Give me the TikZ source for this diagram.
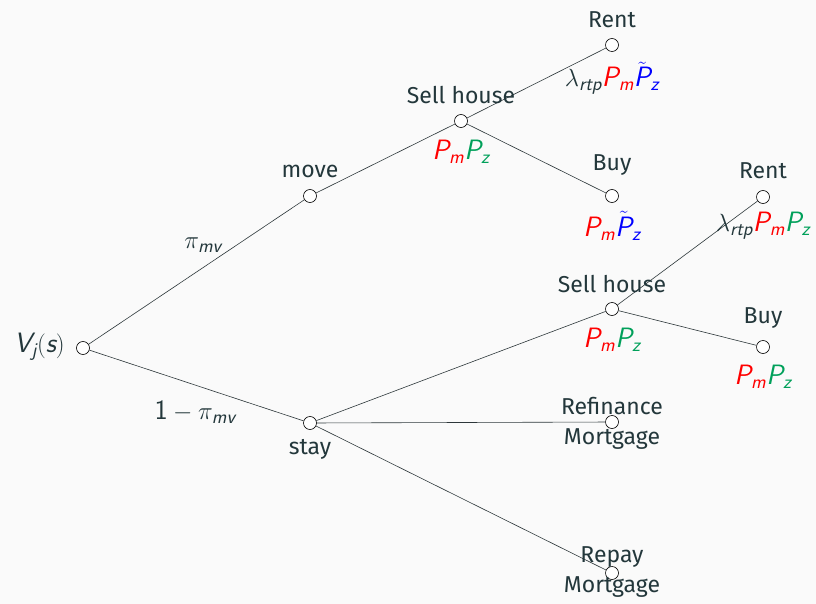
\documentclass[tikz,border=0pt]{standalone}
\usepackage{amsmath}
\usepackage{fontspec}
\setmainfont{Fira Sans}
\definecolor{fg}{RGB}{35,55,59}
\definecolor{bgc}{RGB}{250,250,250}
\definecolor{ln}{RGB}{45,55,58}
\definecolor{mred}{RGB}{255,0,0}
\definecolor{mgreen}{RGB}{0,160,90}
\definecolor{mblue}{RGB}{0,0,255}
\newcommand\mi[1]{\textsf{\slshape #1}}
\newcommand\Pm{{\color{mred}\mi{P}_{\mi{m}}}}
\newcommand\Pz{{\color{mgreen}\mi{P}_{\mi{z}}}}
\newcommand\Ptz{{\color{mblue}\tilde{\mi{P}}_{\mi{z}}}}
\begin{document}
\begin{tikzpicture}[x=1pt,y=-1pt,
  dot/.style={circle,draw=black,fill=white,line width=0.6pt,inner sep=0pt,minimum size=13pt},
  txt/.style={text=fg,font=\fontsize{23}{30}\selectfont,inner sep=0pt},
  mtxt/.style={text=fg,font=\fontsize{28}{30}\selectfont,inner sep=0pt},
  edge/.style={draw=ln,line width=0.6pt}]
\fill[bgc] (0,0) rectangle (816,604);
\useasboundingbox (0,0) rectangle (816,604);
% nodes
\node[dot] (root) at (83,348) {};
\node[dot] (move) at (310,196) {};
\node[dot] (stay) at (310,423) {};
\node[dot] (sell1) at (461,121) {};
\node[dot] (rent1) at (612,45) {};
\node[dot] (buy1) at (612,196) {};
\node[dot] (sell2) at (612,309) {};
\node[dot] (rent2) at (763,197) {};
\node[dot] (buy2) at (763,347) {};
\node[dot] (refi) at (612,422) {};
\node[dot] (repay) at (612,573) {};
% edges
\draw[edge] (root) -- (move);
\draw[edge] (root) -- (stay);
\draw[edge] (move) -- (sell1);
\draw[edge] (sell1) -- (rent1);
\draw[edge] (sell1) -- (buy1);
\draw[edge] (stay) -- (sell2);
\draw[edge] (stay) -- (refi);
\draw[edge] (stay) -- (repay);
\draw[edge] (sell2) -- (rent2);
\draw[edge] (sell2) -- (buy2);
% labels
\node[mtxt,anchor=east] (lroot) at (65,347) {$\mi{V}_{\mi{j}}(\mi{s})$};
\node[txt] (lmove) at (310,171) {move};
\node[txt] (lstay) at (310,449) {stay};
\node[txt] (lsell1) at (461,95) {Sell house};
\node[mtxt] (psell1) at (461,152) {$\Pm\Pz$};
\node[txt] (lrent1) at (612,20) {Rent};
\node[mtxt] (prent1) at (612,78) {$\lambda_{\mi{rtp}}\Pm\Ptz$};
\node[txt] (lbuy1) at (612,165) {Buy};
\node[mtxt] (pbuy1) at (612,226) {$\Pm\Ptz$};
\node[txt] (lsell2) at (612,284) {Sell house};
\node[mtxt] (psell2) at (612,340) {$\Pm\Pz$};
\node[txt] (lrent2) at (763,171) {Rent};
\node[mtxt] (prent2) at (763,226) {$\lambda_{\mi{rtp}}\Pm\Pz$};
\node[txt] (lbuy2) at (763,318) {Buy};
\node[mtxt] (pbuy2) at (763,377) {$\Pm\Pz$};
\node[txt,align=center] (lrefi) at (612,423) {Refinance\\Mortgage};
\node[txt,align=center] (lrepay) at (612,572) {Repay\\Mortgage};
\node[mtxt] (epmv) at (203,245) {$\pi_{\mi{mv}}$};
\node[mtxt] (epst) at (195,412) {$\textsf{1}-\pi_{\mi{mv}}$};
\end{tikzpicture}
\end{document}
